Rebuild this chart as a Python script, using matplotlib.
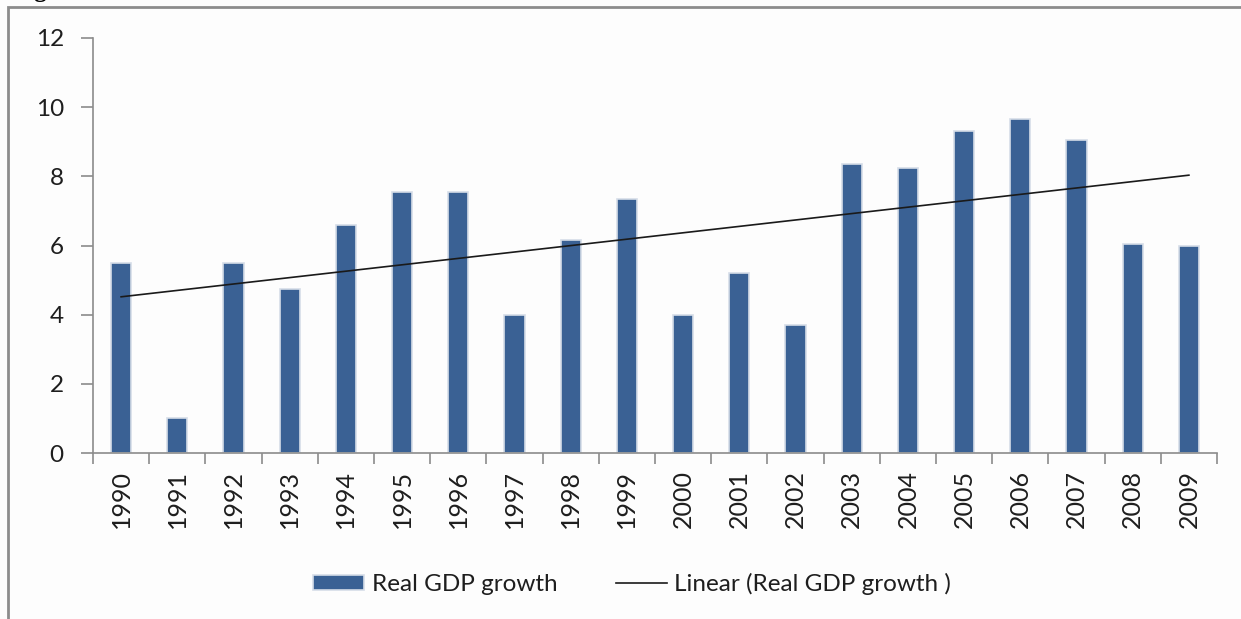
import numpy as np
import matplotlib.pyplot as plt
from matplotlib.patches import Rectangle

plt.rcParams['font.family'] = ['Lato', 'DejaVu Sans']

#%% data
years = ['1990', '1991', '1992', '1993', '1994', '1995', '1996', '1997', '1998', '1999',
         '2000', '2001', '2002', '2003', '2004', '2005', '2006', '2007', '2008', '2009']
growth = [5.5, 1.0, 5.5, 4.75, 6.6, 7.55, 7.55, 4.0, 6.15, 7.35,
          4.0, 5.2, 3.7, 8.35, 8.25, 9.3, 9.65, 9.05, 6.05, 6.0]
yticks = [0, 2, 4, 6, 8, 10, 12]

bar_color = '#3a6194'
grey = '#8c8c8c'
txt = '#1e1e1e'

#%% figure
fig = plt.figure(figsize=(12.41, 6.19), dpi=100)
fig.patch.set_facecolor('#fdfdfd')

# chart area frame
fig.patches.append(Rectangle((8/1241, -0.1), 1.2, 1.1 - 7/619, transform=fig.transFigure,
                             fill=False, edgecolor=grey, linewidth=2, zorder=0))

# caption sitting above the frame (page crop leaves only its lower edge)
fig.text(12/1241, 1 + 3/619, 'Figure 1: Economic Growth in India', family='Liberation Serif',
         weight='bold', fontsize=18, va='baseline', ha='left', color='black')

ax = fig.add_axes([93/1241, 1 - 453/619, (1217 - 93)/1241, (453 - 38)/619])
ax.set_facecolor('none')

x = np.arange(len(years))
bars = ax.bar(x, growth, width=0.36, color=bar_color, edgecolor='#d6dde8', linewidth=1.2,
              zorder=2)

# linear trendline
k, b = np.polyfit(x, growth, 1)
trend, = ax.plot(x, k*x + b, color='#1a1a1a', linewidth=1.2, zorder=3)

ax.set_xlim(-0.5, len(years) - 0.5)
ax.set_ylim(0, 12)
ax.set_yticks(yticks)
ax.set_yticklabels([str(t) for t in yticks], fontsize=17.5, color=txt)

ax.set_xticks(x)
ax.set_xticklabels(years, rotation=90, fontsize=18, color=txt)
ax.tick_params(axis='x', length=0, pad=12)
ax.set_xticks(np.arange(-0.5, len(years)), minor=True)
ax.tick_params(axis='x', which='minor', length=8, color=grey, width=1.2)
ax.tick_params(axis='y', length=9, color=grey, width=1.2, pad=12)

for s in ['top', 'right']:
    ax.spines[s].set_visible(False)
for s in ['left', 'bottom']:
    ax.spines[s].set_color(grey)
    ax.spines[s].set_linewidth(1.2)

fig.legend([bars, trend], ['Real GDP growth', 'Linear (Real GDP growth )'],
           loc='center', bbox_to_anchor=(632/1241, 1 - 584/619), ncol=2, frameon=False,
           fontsize=17.5, handlelength=2.1, handleheight=0.6, handletextpad=0.3,
           columnspacing=2.4, labelcolor=txt)

plt.savefig('out.png', dpi=100)
